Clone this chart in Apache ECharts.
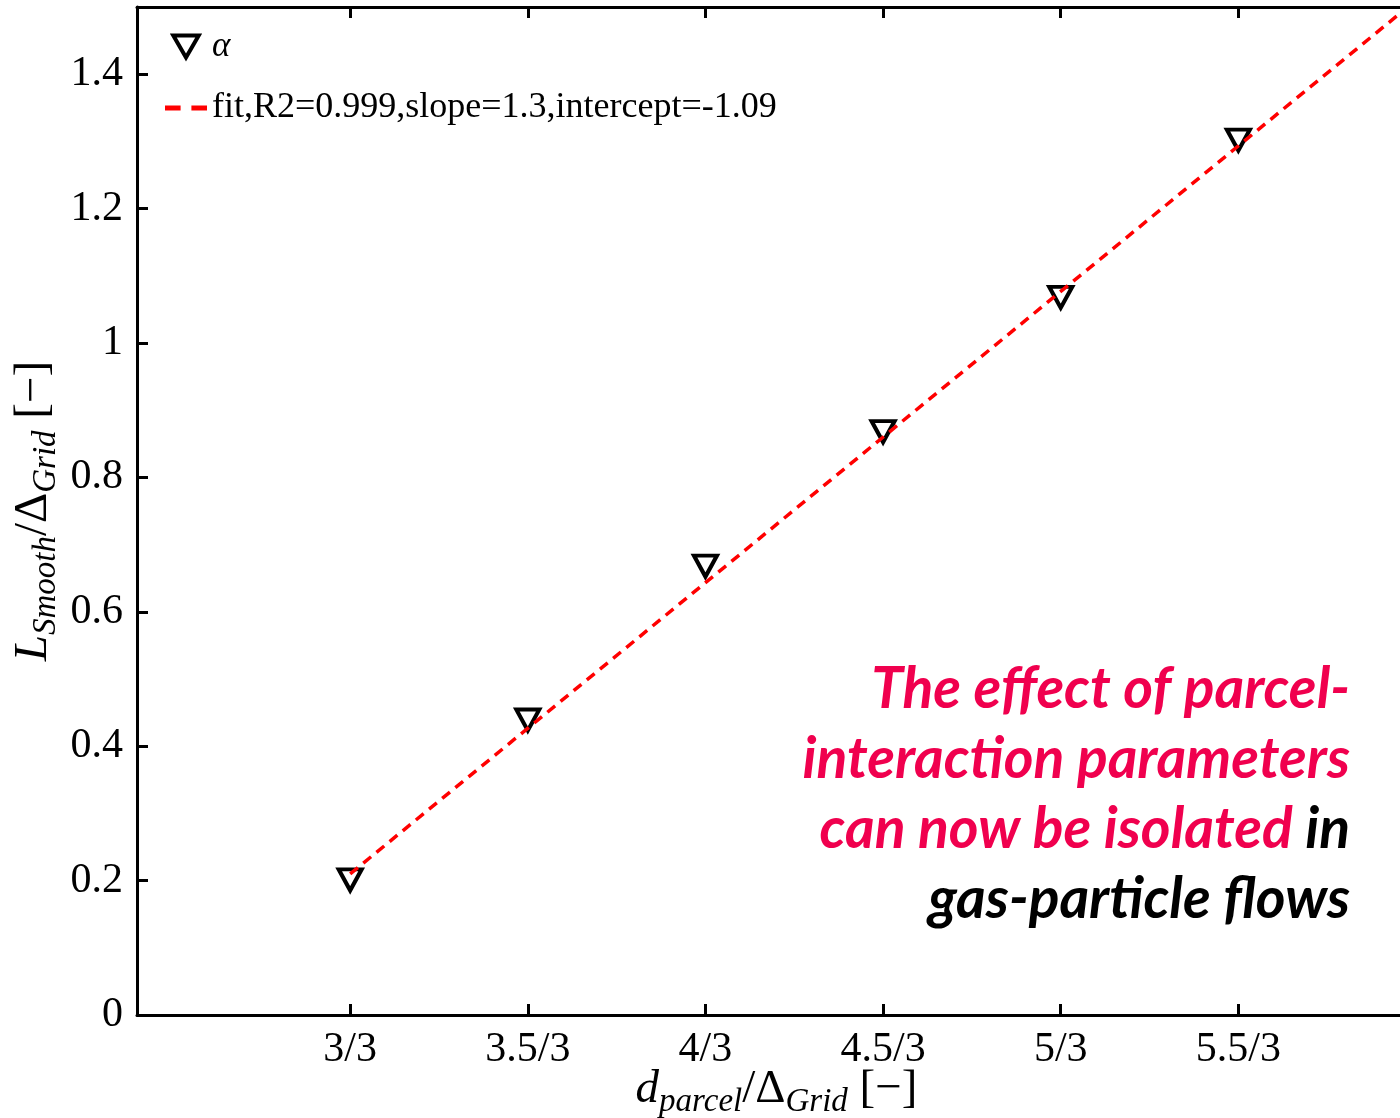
<!DOCTYPE html>
<html>
<head>
<meta charset="utf-8">
<script src="https://cdn.jsdelivr.net/npm/echarts@6/dist/echarts.min.js"></script>
<style>html,body{margin:0;padding:0;background:#fff;overflow:hidden;}#c{width:1400px;height:1118px;}</style>
</head>
<body>
<div id="c"></div>
<script>
// ---- data ----
const xValues = [3, 3.5, 4, 4.5, 5, 5.5];             // d_parcel (numerator of d/3)
const xTickLabels = ['3/3', '3.5/3', '4/3', '4.5/3', '5/3', '5.5/3'];
const alphaValues = [0.201, 0.439, 0.668, 0.868, 1.068, 1.302];
const fitX = [3, 6];
const fitY = [0.21, 1.51];
const yTicks = [0, 0.2, 0.4, 0.6, 0.8, 1, 1.2, 1.4];
const seriesNames = ['alpha', 'fit,R2=0.999,slope=1.3,intercept=-1.09'];
const noteLines = [
  [['The effect of parcel-', 'r']],
  [['interaction parameters', 'r']],
  [['can now be isolated ', 'r'], ['in', 'k']],
  [['gas-particle flows', 'k']]
];

const serif = "'Liberation Serif', serif";
const chart = echarts.init(document.getElementById('c'));

const nameRich = {
  m: { fontFamily: serif, fontSize: 47, lineHeight: 58, color: '#000' },
  i: { fontFamily: serif, fontSize: 47, fontStyle: 'italic', lineHeight: 58, color: '#000' },
  s: { fontFamily: serif, fontSize: 33, fontStyle: 'italic', lineHeight: 40, verticalAlign: 'bottom', color: '#000' }
};

const noteGraphics = noteLines.map((parts, k) => ({
  type: 'text',
  x: 1350,
  y: 690 + k * 70,
  style: {
    text: parts.map(p => '{' + p[1] + '|' + p[0] + '}').join(''),
    align: 'right',
    verticalAlign: 'middle',
    rich: {
      r: { fill: '#F0004E', font: "italic bold 57px Lato" },
      k: { fill: '#000', font: "italic bold 57px Lato" }
    }
  }
}));

const option = {
  animation: false,
  backgroundColor: '#fff',
  grid: { left: 137, right: -16, top: 7, bottom: 103, containLabel: false, outerBoundsMode: 'none' },
  legend: {
    orient: 'vertical',
    left: 160,
    top: 24,
    itemGap: 26,
    itemWidth: 42,
    itemHeight: 22,
    data: [
      { name: seriesNames[0], icon: 'path://M0,0 L20,0 L10,17.3 Z', itemStyle: { color: '#fff', borderColor: '#000', borderWidth: 4 } },
      { name: seriesNames[1], icon: 'path://M0,0 H13 V4 H0 Z M22,0 H35 V4 H22 Z', itemStyle: { color: '#FF0000' } }
    ],
    formatter: n => n === 'alpha' ? '{a|α}' : '{t|' + n + '}',
    textStyle: {
      fontFamily: serif, fontSize: 36, color: '#000',
      rich: {
        a: { fontFamily: serif, fontSize: 35, fontStyle: 'italic', color: '#000' },
        t: { fontFamily: serif, fontSize: 36, color: '#000' }
      }
    }
  },
  xAxis: [{
    type: 'value',
    min: 2.4, max: 6.0,
    position: 'bottom',
    splitLine: { show: false },
    axisLine: { lineStyle: { color: '#000', width: 3 } },
    axisTick: { inside: true, length: 11, lineStyle: { width: 3, color: '#000' }, customValues: xValues },
    axisLabel: {
      customValues: xValues,
      margin: 14,
      fontFamily: serif, fontSize: 42, color: '#000',
      formatter: v => { const i = xValues.indexOf(v); return i >= 0 ? xTickLabels[i] : ''; }
    },
    name: '{i|d}{s|parcel}{m|/Δ}{s|Grid}{m| [−]}',
    nameLocation: 'middle',
    nameGap: 46,
    nameMoveOverlap: false,
    nameTextStyle: { rich: nameRich }
  }, {
    type: 'value',
    min: 2.4, max: 6.0,
    position: 'top',
    splitLine: { show: false },
    axisLine: { lineStyle: { color: '#000', width: 3 } },
    axisTick: { inside: true, length: 11, lineStyle: { width: 3, color: '#000' }, customValues: xValues },
    axisLabel: { show: false }
  }],
  yAxis: {
    type: 'value',
    min: 0, max: 1.5,
    splitLine: { show: false },
    axisLine: { lineStyle: { color: '#000', width: 3 } },
    axisTick: { inside: true, length: 11, lineStyle: { width: 3, color: '#000' }, customValues: yTicks },
    axisLabel: {
      customValues: yTicks,
      margin: 14,
      fontFamily: serif, fontSize: 42, color: '#000'
    },
    name: '{i|L}{s|Smooth}{m|/Δ}{s|Grid}{m| [−]}',
    nameLocation: 'middle',
    nameGap: 74,
    nameMoveOverlap: false,
    nameTextStyle: { rich: nameRich }
  },
  series: [{
    name: seriesNames[0],
    type: 'scatter',
    data: xValues.map((x, i) => [x, alphaValues[i]]),
    symbol: 'path://M0,0 L20,0 L10,17.3 Z',
    symbolSize: [23, 21],
    itemStyle: { color: '#fff', borderColor: '#000', borderWidth: 4, opacity: 1 },
    z: 3
  }, {
    name: seriesNames[1],
    type: 'line',
    data: fitX.map((x, i) => [x, fitY[i]]),
    symbol: 'none',
    clip: true,
    lineStyle: { color: '#FF0000', width: 3.5, type: [10, 7] },
    itemStyle: { color: '#FF0000' },
    z: 4
  }],
  graphic: noteGraphics
};
chart.setOption(option);
</script>
</body>
</html>
